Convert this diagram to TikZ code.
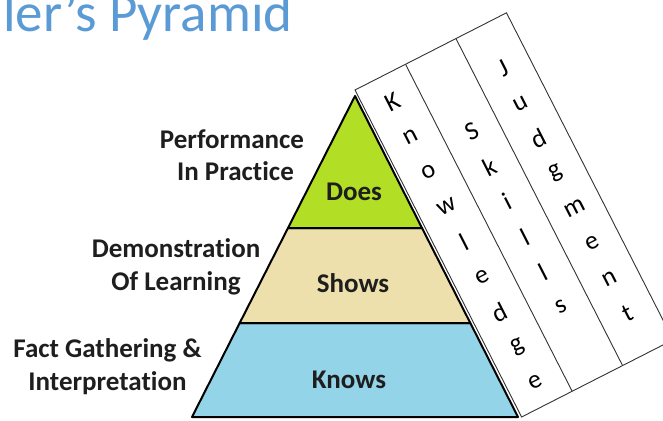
\documentclass[tikz,border=0pt]{standalone}
\usepackage{fontspec}
\setmainfont{Carlito}[Ligatures=NoCommon]
\definecolor{titleblue}{RGB}{91,155,213}
\definecolor{doesgreen}{RGB}{178,222,38}
\definecolor{showstan}{RGB}{237,224,172}
\definecolor{knowsblue}{RGB}{148,212,232}
\definecolor{labtext}{RGB}{30,30,30}
\begin{document}
\begin{tikzpicture}[x=1pt,y=-1pt,
  layer/.style={draw=black,line width=2pt,line join=round},
  lab/.style={font=\fontsize{27}{30}\selectfont\bfseries,text=labtext,anchor=base,inner sep=0pt},
  pl/.style={font=\fontsize{26}{28}\selectfont,text=black,anchor=center,inner sep=0pt},
  panel/.style={draw=black!80,line width=0.9pt,fill=white}]
\useasboundingbox (0,0) rectangle (663,420);
\fill[white] (0,0) rectangle (663,420);
% title
\node[font=\fontsize{55}{60}\selectfont,text=titleblue,anchor=base west,inner sep=0pt] (title) at (3,32) {ler’s Pyramid};
% rotated panel
\begin{scope}[shift={(355,90)},rotate=27,transform shape]
  \draw[panel] (0,0) rectangle (170,367);
  \draw[panel] (56.7,0) -- (56.7,367);
  \draw[panel] (113.3,0) -- (113.3,367);
  \foreach \ch [count=\i from 0] in {K,n,o,w,l,e,d,g,e}
    \node[pl] (kn\i) at (28.3,{28+39.3*\i}) {\ch};
  \foreach \ch [count=\i from 0] in {S,k,i,l,l,s}
    \node[pl] (sk\i) at (85,{90+39.3*\i}) {\ch};
  \foreach \ch [count=\i from 0] in {J,u,d,g,m,e,n,t}
    \node[pl] (ju\i) at (141.7,{48+39.3*\i}) {\ch};
\end{scope}
% pyramid
\coordinate (apex) at (355,96);
\coordinate (l1) at (288,228); \coordinate (r1) at (422,228);
\coordinate (l2) at (239.7,323); \coordinate (r2) at (470.3,323);
\coordinate (l3) at (192,417); \coordinate (r3) at (518,417);
\filldraw[layer,fill=knowsblue] (l2) -- (r2) -- (r3) -- (l3) -- cycle;
\filldraw[layer,fill=showstan] (l1) -- (r1) -- (r2) -- (l2) -- cycle;
\filldraw[layer,fill=doesgreen] (apex) -- (r1) -- (l1) -- cycle;
\node[lab] (does) at (354,200) {Does};
\node[lab] (shows) at (353,292) {Shows};
\node[lab] (knows) at (349,388) {Knows};
% left labels
\node[lab] (perf) at (232,148) {Performance};
\node[lab] (inpr) at (235.5,180) {In Practice};
\node[lab] (demo) at (176,257) {Demonstration};
\node[lab] (oflr) at (176,290) {Of Learning};
\node[lab] (fact) at (107.5,357) {Fact Gathering \&};
\node[lab] (intp) at (107.5,390) {Interpretation};
\end{tikzpicture}
\end{document}
